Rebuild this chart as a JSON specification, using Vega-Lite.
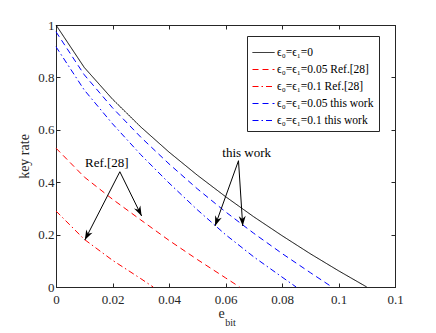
{
  "$schema": "https://vega.github.io/schema/vega-lite/v6.json",
  "width": 339,
  "height": 262,
  "autosize": {"type": "none"},
  "padding": {"left": 56, "top": 25, "right": 41, "bottom": 46},
  "background": "white",
  "config": {
    "view": {"stroke": "#262626", "strokeWidth": 1},
    "font": "Liberation Serif, Times New Roman, serif",
    "axis": {
      "domainColor": "#262626", "tickColor": "#262626", "labelColor": "#262626", "titleColor": "#262626",
      "labelFont": "Liberation Serif, Times New Roman, serif", "titleFont": "Liberation Serif, Times New Roman, serif",
      "labelFontSize": 13, "titleFontSize": 14, "titleFontWeight": "normal",
      "grid": false, "tickSize": -4, "tickWidth": 1, "domainWidth": 1, "labelFlush": false, "labelOverlap": false
    },
    "legend": {
      "orient": "none", "legendX": 191, "legendY": 11,
      "symbolType": "stroke", "symbolSize": 484, "symbolStrokeWidth": 1,
      "labelFont": "Liberation Serif, Times New Roman, serif", "labelFontSize": 11.5, "labelColor": "#000000",
      "fillColor": "white", "strokeColor": "#262626", "padding": 5, "rowPadding": 0, "labelOffset": 2
    }
  },
  "datasets": {
    "curves": [
      {"series": "ϵ₀=ϵ₁=0", "e": 0, "rate": 1},
      {"series": "ϵ₀=ϵ₁=0", "e": 0.01, "rate": 0.838},
      {"series": "ϵ₀=ϵ₁=0", "e": 0.02, "rate": 0.717},
      {"series": "ϵ₀=ϵ₁=0", "e": 0.03, "rate": 0.611},
      {"series": "ϵ₀=ϵ₁=0", "e": 0.04, "rate": 0.515},
      {"series": "ϵ₀=ϵ₁=0", "e": 0.05, "rate": 0.427},
      {"series": "ϵ₀=ϵ₁=0", "e": 0.06, "rate": 0.345},
      {"series": "ϵ₀=ϵ₁=0", "e": 0.07, "rate": 0.268},
      {"series": "ϵ₀=ϵ₁=0", "e": 0.08, "rate": 0.196},
      {"series": "ϵ₀=ϵ₁=0", "e": 0.09, "rate": 0.127},
      {"series": "ϵ₀=ϵ₁=0", "e": 0.1, "rate": 0.062},
      {"series": "ϵ₀=ϵ₁=0", "e": 0.11, "rate": 0},
      {"series": "ϵ₀=ϵ₁=0.05 Ref.[28]", "e": 0, "rate": 0.53},
      {"series": "ϵ₀=ϵ₁=0.05 Ref.[28]", "e": 0.01, "rate": 0.42},
      {"series": "ϵ₀=ϵ₁=0.05 Ref.[28]", "e": 0.02, "rate": 0.335},
      {"series": "ϵ₀=ϵ₁=0.05 Ref.[28]", "e": 0.03, "rate": 0.256},
      {"series": "ϵ₀=ϵ₁=0.05 Ref.[28]", "e": 0.04, "rate": 0.178},
      {"series": "ϵ₀=ϵ₁=0.05 Ref.[28]", "e": 0.05, "rate": 0.105},
      {"series": "ϵ₀=ϵ₁=0.05 Ref.[28]", "e": 0.06, "rate": 0.035},
      {"series": "ϵ₀=ϵ₁=0.05 Ref.[28]", "e": 0.065, "rate": 0},
      {"series": "ϵ₀=ϵ₁=0.1 Ref.[28]", "e": 0, "rate": 0.29},
      {"series": "ϵ₀=ϵ₁=0.1 Ref.[28]", "e": 0.01, "rate": 0.182},
      {"series": "ϵ₀=ϵ₁=0.1 Ref.[28]", "e": 0.02, "rate": 0.102},
      {"series": "ϵ₀=ϵ₁=0.1 Ref.[28]", "e": 0.03, "rate": 0.032},
      {"series": "ϵ₀=ϵ₁=0.1 Ref.[28]", "e": 0.0344, "rate": 0},
      {"series": "ϵ₀=ϵ₁=0.05 this work", "e": 0, "rate": 0.974},
      {"series": "ϵ₀=ϵ₁=0.05 this work", "e": 0.01, "rate": 0.81},
      {"series": "ϵ₀=ϵ₁=0.05 this work", "e": 0.02, "rate": 0.684},
      {"series": "ϵ₀=ϵ₁=0.05 this work", "e": 0.03, "rate": 0.572},
      {"series": "ϵ₀=ϵ₁=0.05 this work", "e": 0.04, "rate": 0.47},
      {"series": "ϵ₀=ϵ₁=0.05 this work", "e": 0.05, "rate": 0.375},
      {"series": "ϵ₀=ϵ₁=0.05 this work", "e": 0.06, "rate": 0.287},
      {"series": "ϵ₀=ϵ₁=0.05 this work", "e": 0.07, "rate": 0.205},
      {"series": "ϵ₀=ϵ₁=0.05 this work", "e": 0.08, "rate": 0.128},
      {"series": "ϵ₀=ϵ₁=0.05 this work", "e": 0.09, "rate": 0.055},
      {"series": "ϵ₀=ϵ₁=0.05 this work", "e": 0.0977, "rate": 0},
      {"series": "ϵ₀=ϵ₁=0.1 this work", "e": 0, "rate": 0.917},
      {"series": "ϵ₀=ϵ₁=0.1 this work", "e": 0.01, "rate": 0.752},
      {"series": "ϵ₀=ϵ₁=0.1 this work", "e": 0.02, "rate": 0.623},
      {"series": "ϵ₀=ϵ₁=0.1 this work", "e": 0.03, "rate": 0.505},
      {"series": "ϵ₀=ϵ₁=0.1 this work", "e": 0.04, "rate": 0.397},
      {"series": "ϵ₀=ϵ₁=0.1 this work", "e": 0.05, "rate": 0.295},
      {"series": "ϵ₀=ϵ₁=0.1 this work", "e": 0.06, "rate": 0.2},
      {"series": "ϵ₀=ϵ₁=0.1 this work", "e": 0.07, "rate": 0.115},
      {"series": "ϵ₀=ϵ₁=0.1 this work", "e": 0.08, "rate": 0.038},
      {"series": "ϵ₀=ϵ₁=0.1 this work", "e": 0.085, "rate": 0}
    ],
    "arrows": [
      {"id": "A", "x0": 0.0646, "y0": 0.482, "x1": 0.0563, "y1": 0.233},
      {"id": "B", "x0": 0.0646, "y0": 0.482, "x1": 0.0661, "y1": 0.233},
      {"id": "C", "x0": 0.0226, "y0": 0.44, "x1": 0.0102, "y1": 0.179},
      {"id": "D", "x0": 0.0226, "y0": 0.44, "x1": 0.0303, "y1": 0.271}
    ],
    "notes": [
      {"label": "this work", "x": 0.0675, "y": 0.511},
      {"label": "Ref.[28]", "x": 0.018, "y": 0.473}
    ],
    "sub": [
      {"label": "bit", "x": 0.0618, "y": -0.137}
    ]
  },
  "resolve": {"axis": {"x": "independent", "y": "independent"}},
  "layer": [
    {
      "data": {"name": "curves"},
      "mark": {"type": "line", "strokeWidth": 1},
      "encoding": {
        "x": {
          "field": "e", "type": "quantitative",
          "scale": {"domain": [0, 0.12], "nice": false, "zero": false},
          "axis": {"orient": "bottom", "values": [0, 0.02, 0.04, 0.06, 0.08, 0.1, 0.12], "format": "~g",
                   "title": "e", "labelPadding": 10, "titleX": 165, "titleY": 26, "titleBaseline": "middle", "titleAlign": "center"}
        },
        "y": {
          "field": "rate", "type": "quantitative",
          "scale": {"domain": [0, 1], "nice": false},
          "axis": {"orient": "left", "values": [0, 0.2, 0.4, 0.6, 0.8, 1], "format": "~g",
                   "title": "key rate", "labelPadding": 6, "titlePadding": 6}
        },
        "color": {
          "field": "series", "type": "nominal",
          "scale": {"domain": ["ϵ₀=ϵ₁=0", "ϵ₀=ϵ₁=0.05 Ref.[28]", "ϵ₀=ϵ₁=0.1 Ref.[28]", "ϵ₀=ϵ₁=0.05 this work", "ϵ₀=ϵ₁=0.1 this work"],
                    "range": ["#000000", "#ff0000", "#ff0000", "#0000ff", "#0000ff"]},
          "legend": {"title": null, "encode": {"symbols": {"update": {"stroke": {"scale": "color", "field": "value"}, "strokeDash": {"scale": "strokeDash", "field": "value"}}}}}
        },
        "strokeDash": {
          "field": "series", "type": "nominal",
          "scale": {"domain": ["ϵ₀=ϵ₁=0", "ϵ₀=ϵ₁=0.05 Ref.[28]", "ϵ₀=ϵ₁=0.1 Ref.[28]", "ϵ₀=ϵ₁=0.05 this work", "ϵ₀=ϵ₁=0.1 this work"],
                    "range": [[1, 0], [6, 4], [6, 3, 1.5, 3], [6, 4], [6, 3, 1.5, 3]]},
          "legend": {"title": null, "encode": {"symbols": {"update": {"stroke": {"scale": "color", "field": "value"}, "strokeDash": {"scale": "strokeDash", "field": "value"}}}}}
        }
      }
    },
    {
      "layer": [
        {
          "data": {"name": "arrows"},
          "mark": {"type": "rule", "strokeWidth": 1, "color": "#000000"},
          "encoding": {
            "x": {"field": "x0", "type": "quantitative", "scale": {"domain": [0, 0.12], "nice": false, "zero": false},
                  "axis": {"orient": "top", "labels": false, "title": null, "values": [0, 0.02, 0.04, 0.06, 0.08, 0.1, 0.12]}},
            "y": {"field": "y0", "type": "quantitative", "scale": {"domain": [0, 1], "nice": false},
                  "axis": {"orient": "right", "labels": false, "title": null, "values": [0, 0.2, 0.4, 0.6, 0.8, 1]}},
            "x2": {"field": "x1"},
            "y2": {"field": "y1"}
          }
        },
        {
          "data": {"name": "arrows"},
          "transform": [{"filter": "datum.id === 'A'"}],
          "mark": {"type": "point", "shape": "M0,0 L0.7,2 L0,1.4 L-0.7,2 Z", "size": 100, "angle": 200, "filled": true, "color": "#000000", "opacity": 1},
          "encoding": {"x": {"field": "x1", "type": "quantitative"}, "y": {"field": "y1", "type": "quantitative"}}
        },
        {
          "data": {"name": "arrows"},
          "transform": [{"filter": "datum.id === 'B'"}],
          "mark": {"type": "point", "shape": "M0,0 L0.7,2 L0,1.4 L-0.7,2 Z", "size": 100, "angle": 177, "filled": true, "color": "#000000", "opacity": 1},
          "encoding": {"x": {"field": "x1", "type": "quantitative"}, "y": {"field": "y1", "type": "quantitative"}}
        },
        {
          "data": {"name": "arrows"},
          "transform": [{"filter": "datum.id === 'C'"}],
          "mark": {"type": "point", "shape": "M0,0 L0.7,2 L0,1.4 L-0.7,2 Z", "size": 100, "angle": 207, "filled": true, "color": "#000000", "opacity": 1},
          "encoding": {"x": {"field": "x1", "type": "quantitative"}, "y": {"field": "y1", "type": "quantitative"}}
        },
        {
          "data": {"name": "arrows"},
          "transform": [{"filter": "datum.id === 'D'"}],
          "mark": {"type": "point", "shape": "M0,0 L0.7,2 L0,1.4 L-0.7,2 Z", "size": 100, "angle": 154, "filled": true, "color": "#000000", "opacity": 1},
          "encoding": {"x": {"field": "x1", "type": "quantitative"}, "y": {"field": "y1", "type": "quantitative"}}
        },
        {
          "data": {"name": "notes"},
          "mark": {"type": "text", "font": "Liberation Serif, Times New Roman, serif", "fontSize": 13, "color": "#000000", "align": "center", "baseline": "middle"},
          "encoding": {"x": {"field": "x", "type": "quantitative"}, "y": {"field": "y", "type": "quantitative"}, "text": {"field": "label"}}
        },
        {
          "data": {"name": "sub"},
          "mark": {"type": "text", "font": "Liberation Serif, Times New Roman, serif", "fontSize": 10, "color": "#262626", "align": "center", "baseline": "middle"},
          "encoding": {"x": {"field": "x", "type": "quantitative"}, "y": {"field": "y", "type": "quantitative"}, "text": {"field": "label"}}
        }
      ]
    }
  ]
}
